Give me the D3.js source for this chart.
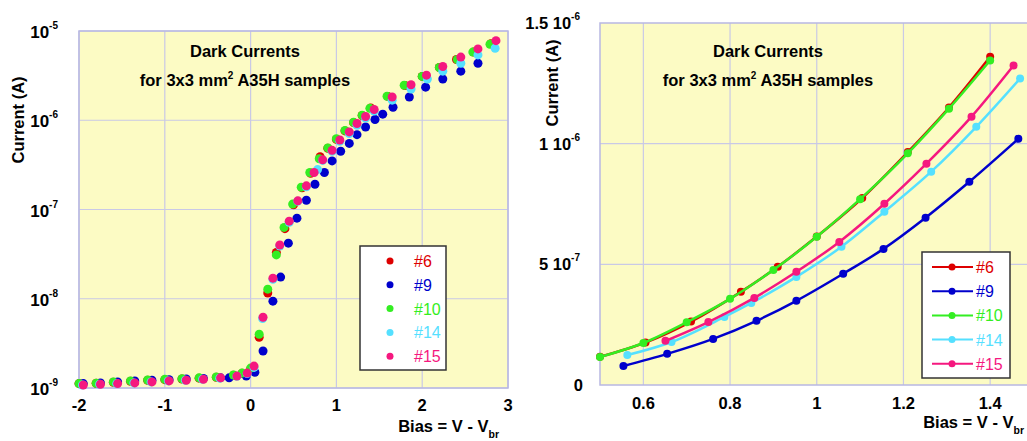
<!DOCTYPE html>
<html lang="en">
<head>
<meta charset="UTF-8">
<title>Dark Currents</title>
<script src="https://cdn.jsdelivr.net/npm/d3@7"></script>
<style>
  body { margin: 0; background: #fff; }
  text { font-family: "Liberation Sans", Arial, sans-serif; }
</style>
</head>
<body>
<div id="chart"></div>
<script>
// sample names and colours
var samples = ["#6", "#9", "#10", "#14", "#15"];
var colors = ["#dd0000", "#0000cc", "#33ee22", "#55e0ff", "#f5187f"];

// left panel: log scale, bias -2..3 V
var logX6 = [-2, -1.8, -1.6, -1.4, -1.2, -1, -0.8, -0.6, -0.4, -0.2, -0.1, 0, 0.1, 0.2, 0.3, 0.4, 0.5, 0.6, 0.7, 0.81, 0.9, 1.0, 1.1, 1.2, 1.3, 1.4, 1.6, 1.8, 2.0, 2.2, 2.4, 2.6, 2.8];
var logY6 = [1.12e-9, 1.13e-9, 1.16e-9, 1.19e-9, 1.22e-9, 1.24e-9, 1.26e-9, 1.29e-9, 1.32e-9, 1.39e-9, 1.46e-9, 1.62e-9, 3.7e-9, 1.16e-8, 3.3e-8, 6.1e-8, 1.13e-7, 1.75e-7, 2.55e-7, 3.9e-7, 4.85e-7, 6.1e-7, 7.6e-7, 9.4e-7, 1.13e-6, 1.37e-6, 1.85e-6, 2.45e-6, 3.1e-6, 3.9e-6, 4.8e-6, 5.8e-6, 7.2e-6];
var logX9 = [-1.95, -1.75, -1.55, -1.35, -1.15, -0.95, -0.75, -0.55, -0.35, -0.25, -0.05, 0.05, 0.145, 0.26, 0.35, 0.44, 0.54, 0.65, 0.75, 0.86, 0.95, 1.05, 1.15, 1.24, 1.34, 1.45, 1.54, 1.66, 1.85, 2.04, 2.24, 2.45, 2.65];
var logY9 = [1.12e-9, 1.14e-9, 1.17e-9, 1.2e-9, 1.22e-9, 1.24e-9, 1.26e-9, 1.28e-9, 1.3e-9, 1.3e-9, 1.36e-9, 1.5e-9, 2.6e-9, 9.4e-9, 1.75e-8, 4.2e-8, 8e-8, 1.27e-7, 1.92e-7, 2.6e-7, 3.5e-7, 4.5e-7, 5.5e-7, 6.9e-7, 8.4e-7, 1.02e-6, 1.17e-6, 1.4e-6, 1.82e-6, 2.35e-6, 2.9e-6, 3.55e-6, 4.35e-6];
var logX10 = [-2, -1.8, -1.6, -1.4, -1.2, -1, -0.8, -0.6, -0.4, -0.2, -0.1, 0, 0.1, 0.2, 0.3, 0.39, 0.49, 0.59, 0.69, 0.8, 0.9, 1.0, 1.1, 1.2, 1.3, 1.39, 1.59, 1.79, 2.0, 2.2, 2.41, 2.59, 2.79];
var logY10 = [1.12e-9, 1.13e-9, 1.17e-9, 1.2e-9, 1.23e-9, 1.25e-9, 1.27e-9, 1.3e-9, 1.33e-9, 1.4e-9, 1.47e-9, 1.67e-9, 4e-9, 1.28e-8, 3.1e-8, 6.3e-8, 1.15e-7, 1.78e-7, 2.6e-7, 3.7e-7, 4.9e-7, 6.2e-7, 7.7e-7, 9.5e-7, 1.14e-6, 1.36e-6, 1.86e-6, 2.47e-6, 3.1e-6, 3.9e-6, 4.8e-6, 5.8e-6, 7.1e-6];
var logX14 = [-1.96, -1.76, -1.56, -1.36, -1.16, -0.96, -0.76, -0.56, -0.36, -0.16, -0.04, 0.04, 0.14, 0.26, 0.34, 0.45, 0.55, 0.65, 0.78, 0.84, 0.95, 1.04, 1.15, 1.24, 1.34, 1.44, 1.65, 1.87, 2.06, 2.24, 2.45, 2.65, 2.85];
var logY14 = [1.08e-9, 1.1e-9, 1.12e-9, 1.14e-9, 1.17e-9, 1.2e-9, 1.22e-9, 1.25e-9, 1.29e-9, 1.35e-9, 1.45e-9, 1.7e-9, 6.0e-9, 1.65e-8, 3.9e-8, 7.2e-8, 1.24e-7, 1.8e-7, 2.8e-7, 3.55e-7, 4.5e-7, 5.8e-7, 7.1e-7, 8.8e-7, 1.06e-6, 1.27e-6, 1.68e-6, 2.24e-6, 2.9e-6, 3.55e-6, 4.35e-6, 5.4e-6, 6.4e-6];
var logX15 = [-1.95, -1.75, -1.55, -1.35, -1.15, -0.95, -0.75, -0.55, -0.35, -0.16, -0.04, 0.04, 0.145, 0.26, 0.34, 0.45, 0.55, 0.65, 0.74, 0.84, 0.95, 1.04, 1.15, 1.24, 1.34, 1.44, 1.65, 1.87, 2.05, 2.24, 2.45, 2.65, 2.86];
var logY15 = [1.08e-9, 1.1e-9, 1.12e-9, 1.14e-9, 1.17e-9, 1.2e-9, 1.22e-9, 1.25e-9, 1.3e-9, 1.36e-9, 1.47e-9, 1.76e-9, 6.2e-9, 1.7e-8, 4.0e-8, 7.4e-8, 1.25e-7, 1.84e-7, 2.6e-7, 3.6e-7, 4.6e-7, 6e-7, 7.4e-7, 9.2e-7, 1.1e-6, 1.32e-6, 1.82e-6, 2.5e-6, 3.2e-6, 4.0e-6, 5.1e-6, 6.3e-6, 7.8e-6];

// right panel: linear scale, bias 0.5..1.5 V
var linX6 = [0.5, 0.605, 0.71, 0.825, 0.91, 1.0, 1.105, 1.21, 1.305, 1.4];
var linY6 = [1.17e-7, 1.76e-7, 2.63e-7, 3.86e-7, 4.9e-7, 6.15e-7, 7.75e-7, 9.65e-7, 1.15e-6, 1.36e-6];
var linX9 = [0.554, 0.655, 0.761, 0.861, 0.953, 1.061, 1.154, 1.251, 1.352, 1.465];
var linY9 = [7.9e-8, 1.29e-7, 1.91e-7, 2.66e-7, 3.49e-7, 4.61e-7, 5.64e-7, 6.93e-7, 8.42e-7, 1.02e-6];
var linX10 = [0.5, 0.6, 0.7, 0.8, 0.9, 1.0, 1.1, 1.21, 1.305, 1.4];
var linY10 = [1.16e-7, 1.74e-7, 2.6e-7, 3.57e-7, 4.77e-7, 6.14e-7, 7.7e-7, 9.6e-7, 1.145e-6, 1.345e-6];
var linX14 = [0.563, 0.665, 0.787, 0.849, 0.953, 1.057, 1.156, 1.264, 1.368, 1.469];
var linY14 = [1.24e-7, 1.78e-7, 2.82e-7, 3.4e-7, 4.48e-7, 5.73e-7, 7.18e-7, 8.84e-7, 1.07e-6, 1.27e-6];
var linX15 = [0.651, 0.75, 0.856, 0.953, 1.052, 1.156, 1.253, 1.357, 1.454];
var linY15 = [1.83e-7, 2.61e-7, 3.61e-7, 4.69e-7, 5.93e-7, 7.51e-7, 9.17e-7, 1.112e-6, 1.324e-6];

var logTicks = [1e-9, 1e-8, 1e-7, 1e-6, 1e-5];
var logTickExp = ["-9", "-8", "-7", "-6", "-5"];
var logXTicks = [-2, -1, 0, 1, 2, 3];
var linYTicks = [0, 5e-7, 1e-6, 1.5e-6];
var linYTickMant = ["0", "5", "1", "1.5"];
var linYTickExp = ["", "-7", "-6", "-6"];
var linXTicks = [0.6, 0.8, 1.0, 1.2, 1.4];

var logSeries = [[logX6, logY6], [logX9, logY9], [logX10, logY10], [logX14, logY14], [logX15, logY15]];
var linSeries = [[linX6, linY6], [linX9, linY9], [linX10, linY10], [linX14, linY14], [linX15, linY15]];

var W = 1027, H = 441;
var bg = "#fcfbc4", gridCol = "#c9c9e6";

var svg = d3.select("#chart").append("svg")
  .attr("width", W).attr("height", H);

function zip(xs, ys) { return xs.map(function(x, i) { return [x, ys[i]]; }); }

// title with superscripted 2
function title(g, cx) {
  g.append("text").attr("x", cx).attr("y", 57).attr("text-anchor", "middle")
    .attr("font-size", 16.5).attr("font-weight", "bold").text("Dark Currents");
  var t = g.append("text").attr("x", cx).attr("y", 86).attr("text-anchor", "middle")
    .attr("font-size", 16.5).attr("font-weight", "bold");
  t.append("tspan").text("for 3x3 mm");
  t.append("tspan").attr("font-size", 10).attr("dy", -7).text("2");
  t.append("tspan").attr("dy", 7).text(" A35H samples");
}

function biasLabel(x, y) {
  var t = svg.append("text").attr("x", x).attr("y", y).attr("text-anchor", "end")
    .attr("font-size", 16.5).attr("font-weight", "bold");
  t.append("tspan").text("Bias = V - V");
  t.append("tspan").attr("font-size", 10.5).attr("dy", 6).text("br");
}

function currentLabel(x, y) {
  svg.append("text").attr("transform", "translate(" + x + "," + y + ") rotate(-90)")
    .attr("text-anchor", "middle").attr("font-size", 16.5).attr("font-weight", "bold")
    .text("Current (A)");
}

// ---------- left panel ----------
var x1 = d3.scaleLinear().domain([-2, 3]).range([79, 508]);
var y1 = d3.scaleLog().domain([1e-9, 1e-5]).range([388, 31]);

var left = svg.append("g");
left.append("rect").attr("x", 79).attr("y", 31).attr("width", 429).attr("height", 357)
  .attr("fill", bg);
left.selectAll(".vg").data(logXTicks).enter().append("line")
  .attr("x1", function(d) { return x1(d); }).attr("x2", function(d) { return x1(d); })
  .attr("y1", 31).attr("y2", 388).attr("stroke", gridCol).attr("stroke-width", 1.2);
left.selectAll(".hg").data(logTicks).enter().append("line")
  .attr("x1", 79).attr("x2", 508)
  .attr("y1", function(d) { return y1(d); }).attr("y2", function(d) { return y1(d); })
  .attr("stroke", gridCol).attr("stroke-width", 1.2);
left.append("rect").attr("x", 79).attr("y", 31).attr("width", 429).attr("height", 357)
  .attr("fill", "none").attr("stroke", "#b8b8e2").attr("stroke-width", 1.5);

var yl = left.selectAll(".yl").data(logTicks).enter().append("text")
  .attr("x", 58).attr("y", function(d) { return y1(d) + 7; })
  .attr("text-anchor", "end").attr("font-size", 17).attr("font-weight", "bold");
yl.append("tspan").text("10");
yl.append("tspan").attr("font-size", 10).attr("dy", -9).text(function(d, i) { return logTickExp[i]; });

left.selectAll(".xl").data(logXTicks).enter().append("text")
  .attr("x", function(d) { return x1(d); }).attr("y", 411)
  .attr("text-anchor", "middle").attr("font-size", 16.5).attr("font-weight", "bold")
  .text(function(d) { return d; });

title(left, 245);

logSeries.forEach(function(s, i) {
  left.append("g").selectAll("circle").data(zip(s[0], s[1])).enter().append("circle")
    .attr("cx", function(d) { return x1(d[0]); })
    .attr("cy", function(d) { return y1(d[1]); })
    .attr("r", 4.5).attr("fill", colors[i]);
});

// left legend
var lg1 = left.append("g");
lg1.append("rect").attr("x", 360).attr("y", 246).attr("width", 86).attr("height", 124)
  .attr("fill", "#fff").attr("stroke", "#333").attr("stroke-width", 1.5);
samples.forEach(function(name, i) {
  var yy = 261 + i * 23.8;
  lg1.append("circle").attr("cx", 390).attr("cy", yy).attr("r", 3.5).attr("fill", colors[i]);
  lg1.append("text").attr("x", 414).attr("y", yy + 6).attr("font-size", 16)
    .attr("fill", colors[i]).text(name);
});

currentLabel(24, 120);
biasLabel(499, 432);

// ---------- right panel ----------
var x2 = d3.scaleLinear().domain([0.5, 1.5]).range([600, 1033.5]);
var y2 = d3.scaleLinear().domain([0, 1.5e-6]).range([385, 23]);

var right = svg.append("g");
right.append("rect").attr("x", 600).attr("y", 23).attr("width", 440).attr("height", 362)
  .attr("fill", bg);
right.selectAll(".vg").data(linXTicks).enter().append("line")
  .attr("x1", function(d) { return x2(d); }).attr("x2", function(d) { return x2(d); })
  .attr("y1", 23).attr("y2", 385).attr("stroke", gridCol).attr("stroke-width", 1.2);
right.selectAll(".hg").data([5e-7, 1e-6]).enter().append("line")
  .attr("x1", 600).attr("x2", W)
  .attr("y1", function(d) { return y2(d); }).attr("y2", function(d) { return y2(d); })
  .attr("stroke", gridCol).attr("stroke-width", 1.2);
right.append("path").attr("d", "M" + W + ",23H600V385H" + W)
  .attr("fill", "none").attr("stroke", "#b8b8e2").attr("stroke-width", 1.5);

var yr = right.selectAll(".yl").data(linYTicks).enter().append("text")
  .attr("x", function(d, i) { return i === 0 ? 583 : 580; })
  .attr("y", function(d) { return y2(d) + 6; })
  .attr("text-anchor", "end").attr("font-size", 16.5).attr("font-weight", "bold");
yr.append("tspan").text(function(d, i) { return linYTickMant[i] + (linYTickExp[i] ? " 10" : ""); });
yr.append("tspan").attr("font-size", 10).attr("dy", -9).text(function(d, i) { return linYTickExp[i]; });

right.selectAll(".xl").data(linXTicks).enter().append("text")
  .attr("x", function(d) { return x2(d); }).attr("y", 409)
  .attr("text-anchor", "middle").attr("font-size", 16.5).attr("font-weight", "bold")
  .text(function(d) { return d3.format("")(+d.toFixed(1)); });

title(right, 768);

var line2 = d3.line().x(function(d) { return x2(d[0]); }).y(function(d) { return y2(d[1]); })
  .curve(d3.curveMonotoneX);
linSeries.forEach(function(s, i) {
  var pts = zip(s[0], s[1]);
  var g = right.append("g");
  g.append("path").attr("d", line2(pts)).attr("fill", "none")
    .attr("stroke", colors[i]).attr("stroke-width", 2.5);
  g.selectAll("circle").data(pts).enter().append("circle")
    .attr("cx", function(d) { return x2(d[0]); })
    .attr("cy", function(d) { return y2(d[1]); })
    .attr("r", 4).attr("fill", colors[i]);
});

// right legend
var lg2 = right.append("g");
lg2.append("rect").attr("x", 922).attr("y", 252).attr("width", 88).attr("height", 126)
  .attr("fill", "#fff").attr("stroke", "#333").attr("stroke-width", 1.5);
samples.forEach(function(name, i) {
  var yy = 267 + i * 24.2;
  lg2.append("line").attr("x1", 932).attr("x2", 973).attr("y1", yy).attr("y2", yy)
    .attr("stroke", colors[i]).attr("stroke-width", 2);
  lg2.append("circle").attr("cx", 952).attr("cy", yy).attr("r", 3.5).attr("fill", colors[i]);
  lg2.append("text").attr("x", 976).attr("y", yy + 6).attr("font-size", 16)
    .attr("fill", colors[i]).text(name);
});

currentLabel(558, 83);
biasLabel(1024, 428);
</script>
</body>
</html>
